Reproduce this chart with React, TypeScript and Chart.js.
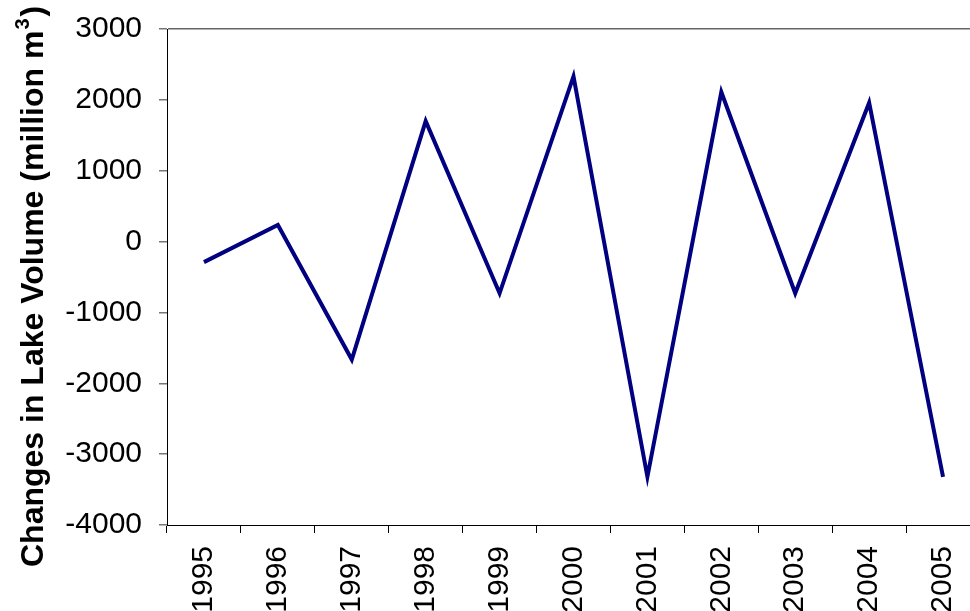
import React, { useEffect, useRef } from "react";
import { Chart, registerables } from "chart.js";

Chart.register(...registerables);

const years: string[] = ["1995", "1996", "1997", "1998", "1999", "2000", "2001", "2002", "2003", "2004", "2005"];
const volumeChange: number[] = [-290, 235, -1665, 1700, -730, 2330, -3320, 2110, -730, 1960, -3320];
const yMin = -4000;
const yMax = 3000;
const yStep = 1000;
const titleMain = "Changes in Lake Volume (million m";
const titleSup = "3";
const titleEnd = ")";

const FONT = '"Liberation Sans", Arial, sans-serif';

const titlePlugin = {
  id: "yTitleSup",
  afterDraw(chart: any) {
    const ctx = chart.ctx;
    ctx.save();
    ctx.translate(43, 567);
    ctx.rotate(-Math.PI / 2);
    ctx.fillStyle = "#000";
    ctx.textBaseline = "alphabetic";
    ctx.textAlign = "left";
    ctx.font = `bold 32px ${FONT}`;
    ctx.fillText(titleMain, 0, 0);
    let w = ctx.measureText(titleMain).width + 1;
    ctx.font = `bold 20px ${FONT}`;
    ctx.fillText(titleSup, w, -14);
    w += ctx.measureText(titleSup).width + 2;
    ctx.font = `bold 32px ${FONT}`;
    ctx.fillText(titleEnd, w, 0);
    ctx.restore();
  },
};

export default function App() {
  const ref = useRef<HTMLCanvasElement | null>(null);
  useEffect(() => {
    if (!ref.current) return;
    const chart = new Chart(ref.current, {
      type: "line",
      data: {
        labels: years,
        datasets: [
          {
            data: volumeChange,
            borderColor: "#000080",
            backgroundColor: "#000080",
            borderWidth: 4,
            pointRadius: 0,
            tension: 0,
            fill: false,
          },
        ],
      },
      options: {
        animation: false,
        responsive: false,
        devicePixelRatio: 1,
        layout: { padding: { top: 29, right: 0, left: 0, bottom: 0 } },
        plugins: { legend: { display: false }, tooltip: { enabled: false }, title: { display: false } },
        scales: {
          x: {
            type: "category",
            offset: true,
            grid: { offset: true, drawOnChartArea: false, tickLength: 8, tickColor: "#000", lineWidth: 1 },
            border: { color: "#000", width: 1 },
            ticks: {
              autoSkip: false,
              minRotation: 90,
              maxRotation: 90,
              padding: 13,
              color: "#000",
              font: { family: FONT, size: 30 },
            },
            afterFit: (s: any) => {
              s.height = 86;
              s.paddingLeft = 0;
              s.paddingRight = 0;
            },
          },
          y: {
            min: yMin,
            max: yMax,
            ticks: {
              stepSize: yStep,
              padding: 17,
              color: "#000",
              font: { family: FONT, size: 30 },
              callback: (v: any) => String(v),
            },
            grid: {
              color: (c: any) => (c.tick && c.tick.value === yMax ? "#666" : "rgba(0,0,0,0)"),
              lineWidth: 1.5,
              tickColor: "#777",
              tickLength: 8,
            },
            border: { color: "#000", width: 1 },
            afterFit: (s: any) => {
              s.width = 167;
              s.paddingTop = 0;
              s.paddingBottom = 0;
            },
          },
        },
      },
      plugins: [titlePlugin],
    });
    return () => chart.destroy();
  }, []);
  return (
    <div style={{ position: "fixed", left: 0, top: 0, width: 970, height: 611, overflow: "hidden", background: "#fff" }}>
      <canvas ref={ref} width={980} height={611} style={{ width: 980, height: 611, display: "block" }} />
    </div>
  );
}
